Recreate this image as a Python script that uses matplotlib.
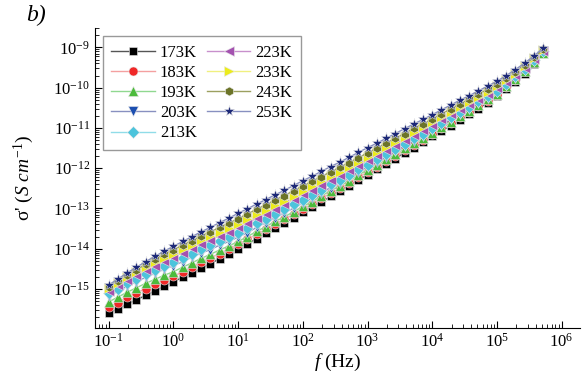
import numpy as np
import matplotlib
matplotlib.use("Agg")
import matplotlib.pyplot as plt

plt.rcParams['font.family'] = ['Liberation Serif', 'DejaVu Serif']
plt.rcParams['mathtext.fontset'] = 'custom'
plt.rcParams['mathtext.rm'] = 'Liberation Serif'
plt.rcParams['mathtext.it'] = 'Liberation Serif:italic'

# measurement frequencies (Hz)
freq = [0.1, 0.139, 0.193, 0.268, 0.373, 0.518, 0.720,
        1.0, 1.39, 1.93, 2.68, 3.73, 5.18, 7.20,
        10, 13.9, 19.3, 26.8, 37.3, 51.8, 72.0,
        100, 139, 193, 268, 373, 518, 720,
        1e3, 1.39e3, 1.93e3, 2.68e3, 3.73e3, 5.18e3, 7.20e3,
        1e4, 1.39e4, 1.93e4, 2.68e4, 3.73e4, 5.18e4, 7.20e4,
        1e5, 1.39e5, 1.93e5, 2.68e5, 3.73e5, 5.18e5]

# log10 of sigma' (S/cm)
s173 = [-15.60, -15.49, -15.38, -15.27, -15.16, -15.05, -14.93,
        -14.82, -14.71, -14.60, -14.49, -14.37, -14.25, -14.13,
        -14.00, -13.88, -13.75, -13.62, -13.49, -13.36, -13.23,
        -13.10, -12.97, -12.84, -12.70, -12.57, -12.43, -12.30,
        -12.16, -12.03, -11.89, -11.76, -11.62, -11.49, -11.35,
        -11.21, -11.08, -10.94, -10.80, -10.66, -10.52, -10.37,
        -10.21, -10.04, -9.86, -9.65, -9.41, -9.15]
s183 = [-15.46, -15.34, -15.21, -15.10, -14.99, -14.88, -14.78,
        -14.69, -14.57, -14.46, -14.34, -14.23, -14.12, -14.01,
        -13.89, -13.77, -13.64, -13.52, -13.39, -13.27, -13.14,
        -13.01, -12.89, -12.75, -12.62, -12.50, -12.36, -12.23,
        -12.09, -11.97, -11.83, -11.69, -11.56, -11.42, -11.29,
        -11.16, -11.01, -10.87, -10.73, -10.60, -10.46, -10.32,
        -10.17, -9.99, -9.80, -9.59, -9.37, -9.14]
s193 = [-15.32, -15.20, -15.08, -14.97, -14.86, -14.76, -14.66,
        -14.57, -14.46, -14.35, -14.24, -14.14, -14.03, -13.93,
        -13.82, -13.70, -13.57, -13.45, -13.32, -13.21, -13.08,
        -12.95, -12.83, -12.69, -12.56, -12.44, -12.31, -12.17,
        -12.04, -11.92, -11.78, -11.65, -11.51, -11.38, -11.25,
        -11.12, -10.98, -10.84, -10.70, -10.57, -10.43, -10.29,
        -10.15, -9.97, -9.78, -9.58, -9.36, -9.13]
s203 = [-15.17, -15.05, -14.93, -14.82, -14.71, -14.61, -14.51,
        -14.42, -14.32, -14.21, -14.11, -14.02, -13.91, -13.82,
        -13.71, -13.60, -13.47, -13.35, -13.23, -13.11, -12.99,
        -12.86, -12.74, -12.61, -12.48, -12.36, -12.23, -12.10,
        -11.97, -11.85, -11.72, -11.58, -11.45, -11.32, -11.20,
        -11.06, -10.93, -10.79, -10.65, -10.52, -10.39, -10.25,
        -10.11, -9.94, -9.75, -9.56, -9.34, -9.12]
s213 = [-15.11, -14.99, -14.86, -14.75, -14.64, -14.53, -14.43,
        -14.34, -14.23, -14.12, -14.01, -13.92, -13.81, -13.71,
        -13.60, -13.49, -13.37, -13.26, -13.13, -13.02, -12.90,
        -12.78, -12.66, -12.53, -12.40, -12.29, -12.16, -12.03,
        -11.91, -11.78, -11.65, -11.52, -11.39, -11.26, -11.14,
        -11.01, -10.88, -10.74, -10.60, -10.48, -10.34, -10.21,
        -10.07, -9.90, -9.72, -9.53, -9.32, -9.10]
s223 = [-15.04, -14.91, -14.78, -14.65, -14.53, -14.42, -14.31,
        -14.20, -14.10, -13.99, -13.88, -13.78, -13.68, -13.58,
        -13.47, -13.36, -13.24, -13.13, -13.01, -12.89, -12.77,
        -12.65, -12.54, -12.41, -12.29, -12.17, -12.05, -11.92,
        -11.80, -11.68, -11.55, -11.43, -11.30, -11.17, -11.05,
        -10.92, -10.79, -10.66, -10.53, -10.41, -10.28, -10.15,
        -10.01, -9.85, -9.68, -9.50, -9.29, -9.08]
s233 = [-14.97, -14.84, -14.70, -14.58, -14.45, -14.34, -14.22,
        -14.12, -14.01, -13.90, -13.79, -13.69, -13.58, -13.48,
        -13.38, -13.27, -13.15, -13.04, -12.92, -12.81, -12.69,
        -12.56, -12.45, -12.33, -12.20, -12.09, -11.97, -11.84,
        -11.72, -11.60, -11.48, -11.35, -11.23, -11.10, -10.98,
        -10.86, -10.73, -10.60, -10.47, -10.36, -10.23, -10.10,
        -9.97, -9.81, -9.65, -9.47, -9.27, -9.07]
s243 = [-14.94, -14.79, -14.65, -14.52, -14.39, -14.26, -14.14,
        -14.03, -13.91, -13.80, -13.69, -13.58, -13.47, -13.37,
        -13.25, -13.14, -13.02, -12.91, -12.79, -12.68, -12.56,
        -12.44, -12.33, -12.21, -12.09, -11.98, -11.86, -11.74,
        -11.62, -11.50, -11.38, -11.26, -11.14, -11.01, -10.90,
        -10.78, -10.65, -10.53, -10.40, -10.29, -10.16, -10.04,
        -9.91, -9.76, -9.60, -9.43, -9.25, -9.05]
s253 = [-14.90, -14.75, -14.60, -14.46, -14.32, -14.19, -14.06,
        -13.94, -13.82, -13.70, -13.58, -13.47, -13.35, -13.24,
        -13.12, -13.01, -12.89, -12.78, -12.66, -12.55, -12.43,
        -12.31, -12.20, -12.08, -11.96, -11.85, -11.73, -11.61,
        -11.49, -11.38, -11.26, -11.14, -11.02, -10.90, -10.79,
        -10.67, -10.55, -10.43, -10.31, -10.20, -10.08, -9.96,
        -9.84, -9.70, -9.55, -9.39, -9.21, -9.02]

labels = ["173K", "183K", "193K", "203K", "213K", "223K", "233K", "243K", "253K"]
series = [s173, s183, s193, s203, s213, s223, s233, s243, s253]
markers = ['s', 'o', '^', 'v', 'D', '<', '>', 'h', '*']
mcolors = ['#000000', '#f02828', '#4cbb3c', '#1c4fb0', '#4cc4dc',
           '#a452b0', '#ecec1c', '#6c7428', '#1c2878']
lcolors = ['#555555', '#f4a0a0', '#90d890', '#8890c0', '#90dce8',
           '#c890cc', '#f0f080', '#9ca060', '#8890c0']
msizes = [6, 6.5, 6.5, 6.5, 6, 6.5, 6.5, 6.5, 8]

fig = plt.figure(figsize=(5.85, 3.85), dpi=100)
ax = fig.add_axes([0.162, 0.148, 0.829, 0.779])

for s, lab, m, mc, lc, ms in zip(series, labels, markers, mcolors, lcolors, msizes):
    ax.plot(freq, 10.0 ** np.array(s), linestyle='-', color=lc, lw=1,
            marker=m, ms=ms, markerfacecolor=mc, markeredgecolor='#e8e8e8',
            markeredgewidth=0.4, label=lab)

ax.set_xscale('log')
ax.set_yscale('log')
ax.set_xlim(10 ** -1.216, 10 ** 6.28)
ax.set_ylim(10 ** -15.97, 10 ** -8.52)

ax.spines['top'].set_visible(False)
ax.spines['right'].set_visible(False)
ax.xaxis.set_major_locator(matplotlib.ticker.LogLocator(base=10, numticks=20))
ax.xaxis.set_minor_locator(matplotlib.ticker.LogLocator(base=10, subs=np.arange(2, 10), numticks=20))
ax.yaxis.set_major_locator(matplotlib.ticker.LogLocator(base=10, numticks=20))
ax.yaxis.set_minor_locator(matplotlib.ticker.LogLocator(base=10, subs=np.arange(2, 10), numticks=20))
ax.xaxis.set_minor_formatter(matplotlib.ticker.NullFormatter())
ax.yaxis.set_minor_formatter(matplotlib.ticker.NullFormatter())
ax.tick_params(which='both', direction='in', labelsize=12)
ax.tick_params(which='major', length=5)
ax.tick_params(which='minor', length=3)

ax.set_xlabel("$f$ (Hz)", fontsize=14, labelpad=1)
ax.set_ylabel("σ' ($S\\ cm^{-1}$)", fontsize=14, labelpad=12)

fig.text(0.045, 0.945, "b)", fontsize=17, style='italic')

leg = ax.legend(ncol=2, loc='upper left', bbox_to_anchor=(0.0, 1.0),
                fontsize=12, frameon=True, fancybox=False, handlelength=2.6,
                columnspacing=0.6, handletextpad=0.3, labelspacing=0.25,
                borderpad=0.5)
leg.get_frame().set_edgecolor('#808080')
leg.get_frame().set_linewidth(1)

fig.savefig("out.png", dpi=100)
